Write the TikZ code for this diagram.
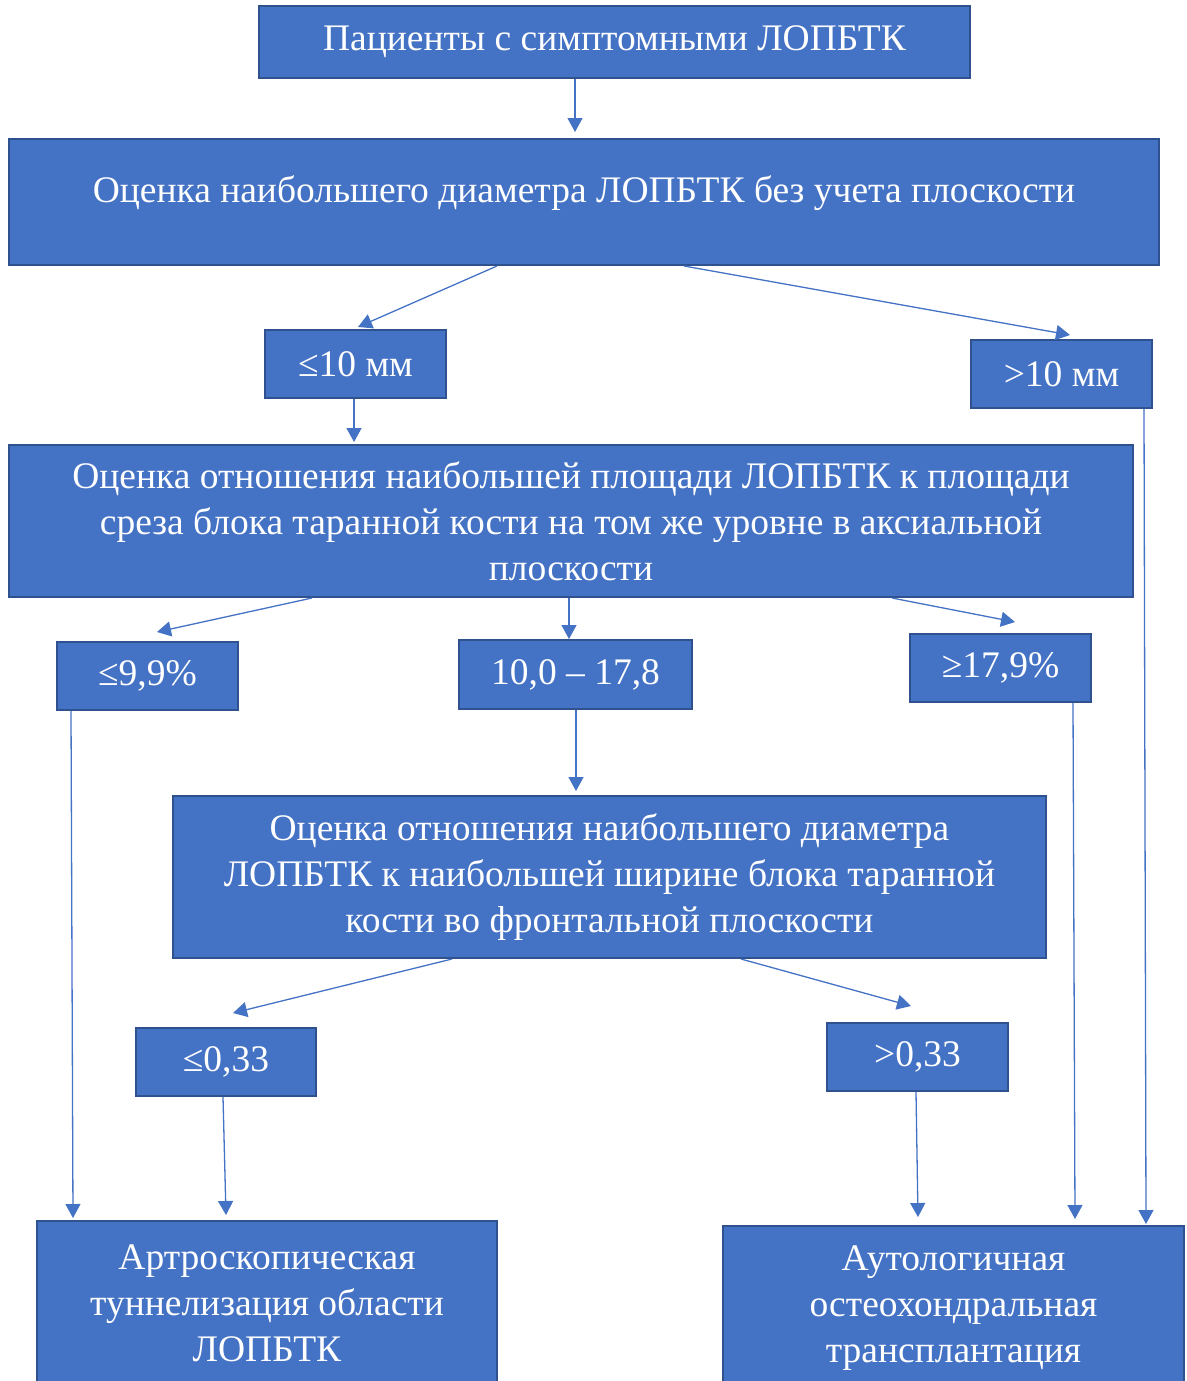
\documentclass[tikz,border=0pt]{standalone}
\usepackage{fontspec}
\setmainfont{Liberation Serif}
\usetikzlibrary{arrows.meta}

\definecolor{boxblue}{HTML}{4472C4}
\definecolor{boxline}{HTML}{2F528F}

\tikzset{
  blok/.style={draw=boxline, line width=2pt, fill=boxblue, text=white,
    align=center, inner sep=0pt, font=\fontsize{37.5}{46}\selectfont},
  arr/.style={draw=boxblue, line width=1.3pt, -{Triangle[width=15pt,length=14pt]}},
}

\begin{document}
\begin{tikzpicture}[x=1pt,y=-1pt]
            \clip (0,0) rectangle (1186,1381);

            \node[blok, minimum width=711pt, minimum height=71pt] (top) at (614.5,42) {Пациенты с симптомными ЛОПБТК};
            \node[blok, minimum width=1150pt, minimum height=126pt, text depth=26pt] (diam) at (584,202) {Оценка наибольшего диаметра ЛОПБТК без учета плоскости};

            \node[blok, minimum width=181pt, minimum height=68pt] (le10) at (355.5,364) {≤10 мм};
            \node[blok, minimum width=181pt, minimum height=68pt] (gt10) at (1061.5,374) {>10 мм};

            \node[blok, minimum width=1124pt, minimum height=152pt] (area) at (571,521) {Оценка отношения наибольшей площади ЛОПБТК к площади\\среза блока таранной кости на том же уровне в аксиальной\\плоскости};

            \node[blok, minimum width=181pt, minimum height=68pt] (p1) at (147.5,676) {≤9,9\%};
            \node[blok, minimum width=233pt, minimum height=69pt] (p2) at (575.5,674.5) {10,0 – 17,8};
            \node[blok, minimum width=181pt, minimum height=68pt] (p3) at (1000.5,668) {≥17,9\%};

            \node[blok, minimum width=873pt, minimum height=162pt] (width) at (609.5,877) {Оценка отношения наибольшего диаметра\\ЛОПБТК к наибольшей ширине блока таранной\\кости во фронтальной плоскости};

            \node[blok, minimum width=180pt, minimum height=68pt] (r1) at (226,1062) {≤0,33};
            \node[blok, minimum width=181pt, minimum height=68pt] (r2) at (917.5,1057) {>0,33};

            \node[blok, minimum width=460pt, minimum height=164pt] (tunnel) at (267,1303) {Артроскопическая\\туннелизация области\\ЛОПБТК};
            \node[blok, minimum width=461pt, minimum height=164pt] (graft) at (953.5,1308) {Аутологичная\\остеохондральная\\трансплантация};

            % arrows
            \draw[arr] ([xshift=-39.5pt]top.south) -- ([xshift=-9pt,yshift=6pt]diam.north);
            \draw[arr] ([xshift=-87pt]diam.south) -- ([xshift=2.5pt,yshift=2pt]le10.north);
            \draw[arr] ([xshift=100pt]diam.south) -- ([xshift=8.5pt,yshift=4pt]gt10.north);
            \draw[arr] ([xshift=-1.5pt]le10.south) -- ([xshift=-217pt,yshift=2pt]area.north);
            \draw[arr] ([xshift=82.5pt]gt10.south) -- ([xshift=192.5pt,yshift=1pt]graft.north);

            \draw[arr] ([xshift=-259pt]area.south) -- ([xshift=9.5pt,yshift=9pt]p1.north);
            \draw[arr] ([xshift=-2pt]area.south) -- ([xshift=-6.5pt,yshift=0pt]p2.north);
            \draw[arr] ([xshift=321pt]area.south) -- ([xshift=14.5pt,yshift=11pt]p3.north);

            \draw[arr] ([xshift=-76.5pt]p1.south) -- ([xshift=-194pt,yshift=2pt]tunnel.north);
            \draw[arr] ([xshift=0.5pt]p2.south) -- ([xshift=-33.5pt,yshift=4pt]width.north);
            \draw[arr] ([xshift=72.5pt]p3.south) -- ([xshift=121.5pt,yshift=6pt]graft.north);

            \draw[arr] ([xshift=-157.5pt]width.south) -- ([xshift=7pt,yshift=14pt]r1.north);
            \draw[arr] ([xshift=131.5pt]width.south) -- ([xshift=-6.5pt,yshift=16pt]r2.north);

            \draw[arr] ([xshift=-3pt]r1.south) -- ([xshift=-41pt,yshift=5pt]tunnel.north);
            \draw[arr] ([xshift=-1.5pt]r2.south) -- ([xshift=-35.5pt,yshift=8pt]graft.north);
        \end{tikzpicture}
\end{document}
